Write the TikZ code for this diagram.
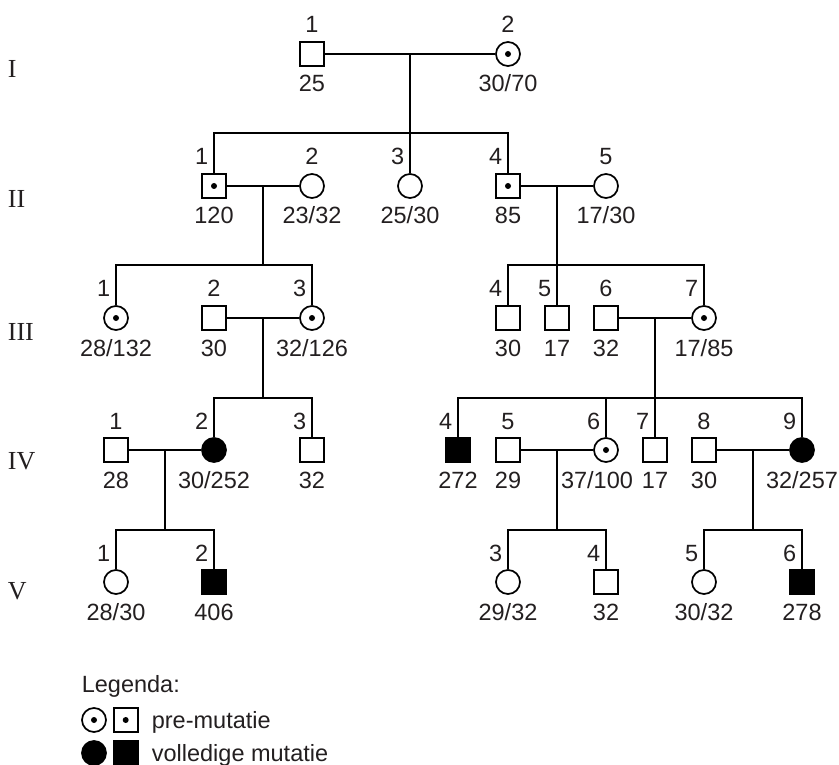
\documentclass[tikz,border=0pt]{standalone}
\usepackage{fontspec}
\setmainfont{Liberation Sans}
\newfontfamily\romanfont{Liberation Serif}
\usetikzlibrary{positioning}
\definecolor{PedInk}{HTML}{231F20}

\begin{document}
\begin{tikzpicture}[x=1pt, y=-1pt, line width=1.7pt,
    every node/.style={text=PedInk, inner sep=0pt, font=\fontsize{23.5}{27}\selectfont},
    person/.style={draw, minimum size=24pt},
    male/.style={person, rectangle},
    female/.style={person, circle},
    cardot/.style={path picture={\fill (path picture bounding box.center) circle (3pt);}},
    malecar/.style={male, cardot},
    femalecar/.style={female, cardot},
    maleaff/.style={male, fill=black},
    femaleaff/.style={female, fill=black},
    numc/.style={anchor=base},
    numl/.style={anchor=base east, xshift=-5pt},
    agelab/.style={anchor=base},
    gen/.style={anchor=base west, font=\romanfont\fontsize{26}{30}\selectfont}]
    \useasboundingbox (0,0) rectangle (839,765);

    % Individuals: name/x/y/style/number/age/number side/age shift
    \foreach \id/\px/\py/\kind/\nr/\age/\side/\ax in {
        i1/312/54/male/1/25/numc/0,
        i2/508/54/femalecar/2/{30/70}/numc/0,
        ii1/214/186/malecar/1/120/numl/0,
        ii2/312/186/female/2/{23/32}/numc/0,
        ii3/410/186/female/3/{25/30}/numl/0,
        ii4/508/186/malecar/4/85/numl/0,
        ii5/606/186/female/5/{17/30}/numc/0,
        iii1/116/318/femalecar/1/{28/132}/numl/0,
        iii2/214/318/male/2/30/numc/0,
        iii3/312/318/femalecar/3/{32/126}/numl/0,
        iii4/508/318/male/4/30/numl/0,
        iii5/557/318/male/5/17/numl/0,
        iii6/606/318/male/6/32/numc/0,
        iii7/704/318/femalecar/7/{17/85}/numl/0,
        iv1/116/450/male/1/28/numc/0,
        iv2/214/450/femaleaff/2/{30/252}/numl/0,
        iv3/312/450/male/3/32/numl/0,
        iv4/458/450/maleaff/4/272/numl/0,
        iv5/508/450/male/5/29/numc/0,
        iv6/606/450/femalecar/6/{37/100}/numl/-9,
        iv7/655/450/male/7/17/numl/0,
        iv8/704/450/male/8/30/numc/0,
        iv9/802/450/femaleaff/9/{32/257}/numl/0,
        v1/116/582/female/1/{28/30}/numl/0,
        v2/214/582/maleaff/2/406/numl/0,
        v3/508/582/female/3/{29/32}/numl/0,
        v4/606/582/male/4/32/numl/0,
        v5/704/582/female/5/{30/32}/numl/0,
        v6/802/582/maleaff/6/278/numl/0
    } {
        \node[\kind] (\id) at (\px,\py) {};
        \node[\side] (\id-nr) at ([yshift=21pt]\id.center) {\nr};
        \node[agelab] (\id-age) at ([xshift=\ax pt, yshift=-38pt]\id.center) {\age};
    }

    % Couples (m) and sibship lines (s)
    \coordinate (m1) at (410,54);  \coordinate (s1) at (410,133);
    \coordinate (m2) at (263,186); \coordinate (s2) at (263,265);
    \coordinate (m3) at (557,186); \coordinate (s3) at (557,265);
    \coordinate (m4) at (263,318); \coordinate (s4) at (263,398);
    \coordinate (m5) at (655,318); \coordinate (s5) at (655,398);
    \coordinate (m6) at (165,450); \coordinate (s6) at (165,530);
    \coordinate (m7) at (557,450); \coordinate (s7) at (557,530);
    \coordinate (m8) at (753,450); \coordinate (s8) at (753,530);

    % Generation I
    \draw (i1) -- (i2);
    \draw (m1) -- (s1);
    \draw (ii1) |- (s1) -| (ii4);
    \draw (s1) -- (ii3);

    % Generation II
    \draw (ii1) -- (ii2);
    \draw (m2) -- (s2);
    \draw (iii1) |- (s2) -| (iii3);
    \draw (ii4) -- (ii5);
    \draw (m3) -- (s3);
    \draw (iii4) |- (s3) -| (iii7);
    \draw (s3) -- (iii5);

    % Generation III
    \draw (iii2) -- (iii3);
    \draw (m4) -- (s4);
    \draw (iv2) |- (s4) -| (iv3);
    \draw (iii6) -- (iii7);
    \draw (m5) -- (s5);
    \draw (iv4) |- (s5) -| (iv9);
    \draw (s5) -| (iv6);
    \draw (s5) -- (iv7);

    % Generation IV
    \draw (iv1) -- (iv2);
    \draw (m6) -- (s6);
    \draw (v1) |- (s6) -| (v2);
    \draw (iv5) -- (iv6);
    \draw (m7) -- (s7);
    \draw (v3) |- (s7) -| (v4);
    \draw (iv8) -- (iv9);
    \draw (m8) -- (s8);
    \draw (v5) |- (s8) -| (v6);

    % Generation numbers
    \foreach \g/\py/\dy in {I/54/24, II/186/22, III/318/22, IV/450/19, V/582/17}
        \node[gen] (gen\g) at (7,\py+\dy) {\g};

    % Legend
    \node[anchor=base west] (legtitle) at (81,692) {Legenda:};
    \node[femalecar] (lc1) at (94,720) {};
    \node[malecar, right=6pt of lc1] (ls1) {};
    \node[anchor=base west] (lt1) at (151,728) {pre-mutatie};
    \node[femaleaff] (lc2) at (94,753) {};
    \node[maleaff, right=6pt of lc2] (ls2) {};
    \node[anchor=base west] (lt2) at (151,761) {volledige mutatie};
\end{tikzpicture}
\end{document}
